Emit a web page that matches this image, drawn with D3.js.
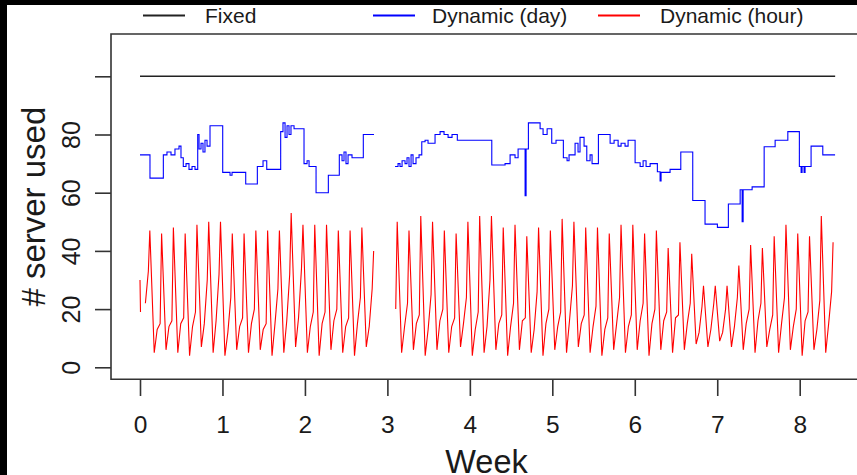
<!DOCTYPE html>
<html>
<head>
<meta charset="utf-8">
<script src="https://cdn.jsdelivr.net/npm/d3@7"></script>
<style>
body { margin: 0; background: #fff; }
text { font-family: "Liberation Sans", Arial, sans-serif; fill: #1a1a1a; }
</style>
</head>
<body>
<svg id="chart" width="857" height="475"></svg>
<script>
// axis ticks
const weekTicks = [0, 1, 2, 3, 4, 5, 6, 7, 8];
const serverTicks = [0, 20, 40, 60, 80, 100];
const serverLabels = ["0", "20", "40", "60", "80", ""];

// legend
const seriesNames = ["Fixed", "Dynamic (day)", "Dynamic (hour)"];
const seriesColors = ["#222222", "#0000ff", "#ff0000"];

// fixed provisioning
const fixedWeek = [0, 8.43];
const fixedServers = [100, 100];

// dynamic (day): step changes, week -> servers (null = no data)
const dayWeek = [
  0.000, 0.121, 0.283, 0.327, 0.376, 0.424, 0.473, 0.497, 0.525, 0.558,
  0.594, 0.631, 0.667, 0.700, 0.716, 0.740, 0.764, 0.788, 0.813, 0.849,
  1.003, 1.092, 1.116, 1.282, 1.423, 1.492, 1.537, 1.706, 1.734, 1.759,
  1.783, 1.807, 1.831, 1.868, 1.989, 2.026, 2.050, 2.135, 2.284, 2.417,
  2.450, 2.474, 2.498, 2.523, 2.571, 2.708, 2.838, 2.95,
  3.093, 3.129, 3.153, 3.178, 3.214, 3.238, 3.262, 3.287, 3.311, 3.347,
  3.384, 3.417, 3.457, 3.493, 3.578, 3.639, 3.687, 3.736, 3.784, 3.848,
  4.266, 4.427, 4.488, 4.548, 4.585, 4.670, 4.682, 4.710, 4.852, 4.888,
  4.937, 4.993, 5.045, 5.134, 5.179, 5.203, 5.276, 5.312, 5.336, 5.385,
  5.418, 5.458, 5.482, 5.559, 5.701, 5.749, 5.798, 5.834, 5.882, 5.919,
  6.004, 6.065, 6.101, 6.137, 6.186, 6.274, 6.307, 6.319, 6.428, 6.558,
  6.703, 6.852, 7.002, 7.135, 7.278, 7.302, 7.314, 7.423, 7.569, 7.702,
  7.856, 7.996, 8.017, 8.029, 8.053, 8.065, 8.138, 8.280, 8.429
];
const dayServers = [
  73, 65, 73, 74, 73, 75, 76, 72, 69, 70,
  68, 69, 68, 80, 75, 77, 74, 78, 76, 83,
  67, 66, 67, 63, 69, 71, 68, 81, 84, 79,
  83, 80, 83, 82, 70, 71, 69, 60, 66, 73,
  71, 74, 70, 73, 72, 80, 80, null,
  69, 70, 69, 71, 70, 72, 69, 73, 70, 72,
  73, 77.5, 78, 77, 80, 81, 80, 79, 80, 78,
  69.5, 70, 73, 72, 75, 59, 75, 84, 82, 80,
  82, 77, 78, 72, 71, 73, 77, 74, 79, 76,
  71, 73, 70, 80, 77, 78, 76, 77, 76, 78,
  70.3, 69, 71, 69, 70, 67.2, 64, 67, 68, 74,
  57.3, 49.2, 48.1, 56.1, 61, 50, 61, 62, 75.8, 78,
  81, 69, 67, 69, 67, 69, 76, 73, 73
];

// dynamic (hour): readings per day at the start, then per day
const hourStart = [30, 19];           // hours 0 and 1 of the trace
const hourSlots = [5, 11, 17, 20];    // hour of day of each reading below
const hourTrough = [null, 5, 6, 5, 4, 7, 5, 4, 6, 5, 6, 4, 5, 7, 5, 4, 6, 5, 4, 7,
  null, null, 5, 6, 4, 6, 5, 7, 4, 5, 6, 4, 6, 5, 4, 6, 5, 7, 5, 4,
  6, 5, 6, 4, 6, 5, 6, 8, 7, 9, 7, 6, 5, 7, 5, 6, 4, 6, 5];
const hourLow = [22, 13, 14, 15, 14, 15, 16, 12, 14, 15, 13, 15, 16, 17, 14, 15, 16, 14, 15, 14,
  null, null, 14, 15, 13, 16, 14, 15, 13, 14, 15, 14, 16, 13, 15, 14, 16, 15, 14, 13,
  15, 14, 16, 15, 16, 17, 15, 12, 13, 12, 14, 15, 16, 13, 15, 14, 16, 13, 15];
const hourHigh = [33, 15, 16, 17, 19, 30, 32, 24, 17, 20, 15, 27, 32, 34, 19, 19, 20, 17, 24, 27,
  null, 20, 22, 18, 25, 20, 17, 24, 19, 30, 18, 22, 17, 26, 20, 19, 28, 18, 21, 17,
  24, 18, 22, 20, 19, 18, 22, 21, 22, 20, 24, 20, 22, 18, 24, 20, 19, 23, 26];
const hourPeak = [47, 46, 48, 46, 49, 50, 50, 46, 46, 47, 47, 47, 53, 49, 49, 49, 47, 47, 48, 40,
  null, 50, 47, 52, 50, 47, 46, 50, 52, 52, 48, 49, 45, 48, 47, 51, 50, 48, 48, 46,
  49, 49, 46, 47, 41, 43, 39, 28, 28, 28, 35, 42, 41, 45, 49, 46, 45, 52, 43];

const svg = d3.select("#chart");

// frame of the screenshot
svg.append("rect").attr("x", 0).attr("y", 0).attr("width", 857).attr("height", 475).attr("fill", "#fff");
svg.append("rect").attr("x", 0).attr("y", 0).attr("width", 857).attr("height", 5).attr("fill", "#000");
svg.append("rect").attr("x", 0).attr("y", 0).attr("width", 7).attr("height", 475).attr("fill", "#000");

const plotLeft = 111, plotTop = 34, plotBottom = 379.3;

const xScale = d3.scaleLinear().domain([0, 8]).range([140, 799.7]);
const yScale = d3.scaleLinear().domain([0, 100]).range([367.3, 76.3]);

// box (right side falls outside the picture)
svg.append("path")
    .attr("d", "M" + 870 + "," + plotTop + "H" + plotLeft + "V" + plotBottom + "H" + 870)
    .attr("fill", "none")
    .attr("stroke", "#333")
    .attr("stroke-width", 1.6);

// x axis
const xAxis = d3.axisBottom(xScale)
    .tickValues(weekTicks)
    .tickSize(16.7)
    .tickPadding(19.3)
    .tickFormat(d3.format("d"));

const gx = svg.append("g")
    .attr("transform", "translate(0," + plotBottom + ")")
    .call(xAxis);
gx.select(".domain").remove();
gx.selectAll("line").attr("stroke", "#333").attr("stroke-width", 1.6);
gx.selectAll("text").attr("font-size", 24.5).attr("fill", "#1a1a1a")
    .style("font-family", "'Liberation Sans', Arial, sans-serif");

// y axis, labels turned like R's default
const yAxis = d3.axisLeft(yScale)
    .tickValues(serverTicks)
    .tickSize(16)
    .tickFormat((d, i) => serverLabels[i]);

const gy = svg.append("g")
    .attr("transform", "translate(" + plotLeft + ",0)")
    .call(yAxis);
gy.select(".domain").remove();
gy.selectAll("line").attr("stroke", "#333").attr("stroke-width", 1.6);
gy.selectAll("text")
    .attr("transform", "rotate(-90)")
    .attr("x", 0)
    .attr("y", -31)
    .attr("dy", 0)
    .attr("text-anchor", "middle")
    .attr("font-size", 25)
    .attr("fill", "#1a1a1a")
    .style("font-family", "'Liberation Sans', Arial, sans-serif");

// axis titles
svg.append("text")
    .attr("x", 486.5)
    .attr("y", 472.7)
    .attr("text-anchor", "middle")
    .attr("font-size", 32.5)
    .text("Week");

svg.append("text")
    .attr("transform", "translate(45," + ((plotTop + plotBottom) / 2) + ") rotate(-90)")
    .attr("text-anchor", "middle")
    .attr("font-size", 33)
    .text("# server used");

// series
const line = d3.line()
    .defined(d => d.v != null)
    .x(d => xScale(d.w))
    .y(d => yScale(d.v));

const fixedData = fixedWeek.map((w, i) => ({ w: w, v: fixedServers[i] }));
svg.append("path")
    .datum(fixedData)
    .attr("d", line)
    .attr("fill", "none")
    .attr("stroke", seriesColors[0])
    .attr("stroke-width", 1.4);

const dayData = dayWeek.map((w, i) => ({ w: w, v: dayServers[i] }));
svg.append("path")
    .datum(dayData)
    .attr("d", line.curve(d3.curveStepAfter))
    .attr("fill", "none")
    .attr("stroke", seriesColors[1])
    .attr("stroke-width", 1.1);

const hourCols = [hourTrough, hourLow, hourHigh, hourPeak];
const hourData = hourStart.map((v, i) => ({ w: i / 168, v: v }));
hourPeak.forEach(function (p, d) {
    hourSlots.forEach(function (h, k) {
        hourData.push({ w: (d * 24 + h) / 168, v: hourCols[k][d] });
    });
});
svg.append("path")
    .datum(hourData)
    .attr("d", line.curve(d3.curveLinear))
    .attr("fill", "none")
    .attr("stroke", seriesColors[2])
    .attr("stroke-width", 1.1);

// legend
const legendLineX = [143, 373, 598];
const legendTextX = [205, 432, 660];
const legend = svg.append("g");
seriesNames.forEach(function (name, i) {
    legend.append("line")
        .attr("x1", legendLineX[i])
        .attr("x2", legendLineX[i] + 42)
        .attr("y1", 15.5)
        .attr("y2", 15.5)
        .attr("stroke", seriesColors[i])
        .attr("stroke-width", 2);
    legend.append("text")
        .attr("x", legendTextX[i])
        .attr("y", 23.3)
        .attr("font-size", 21)
        .text(name);
});
</script>
</body>
</html>
